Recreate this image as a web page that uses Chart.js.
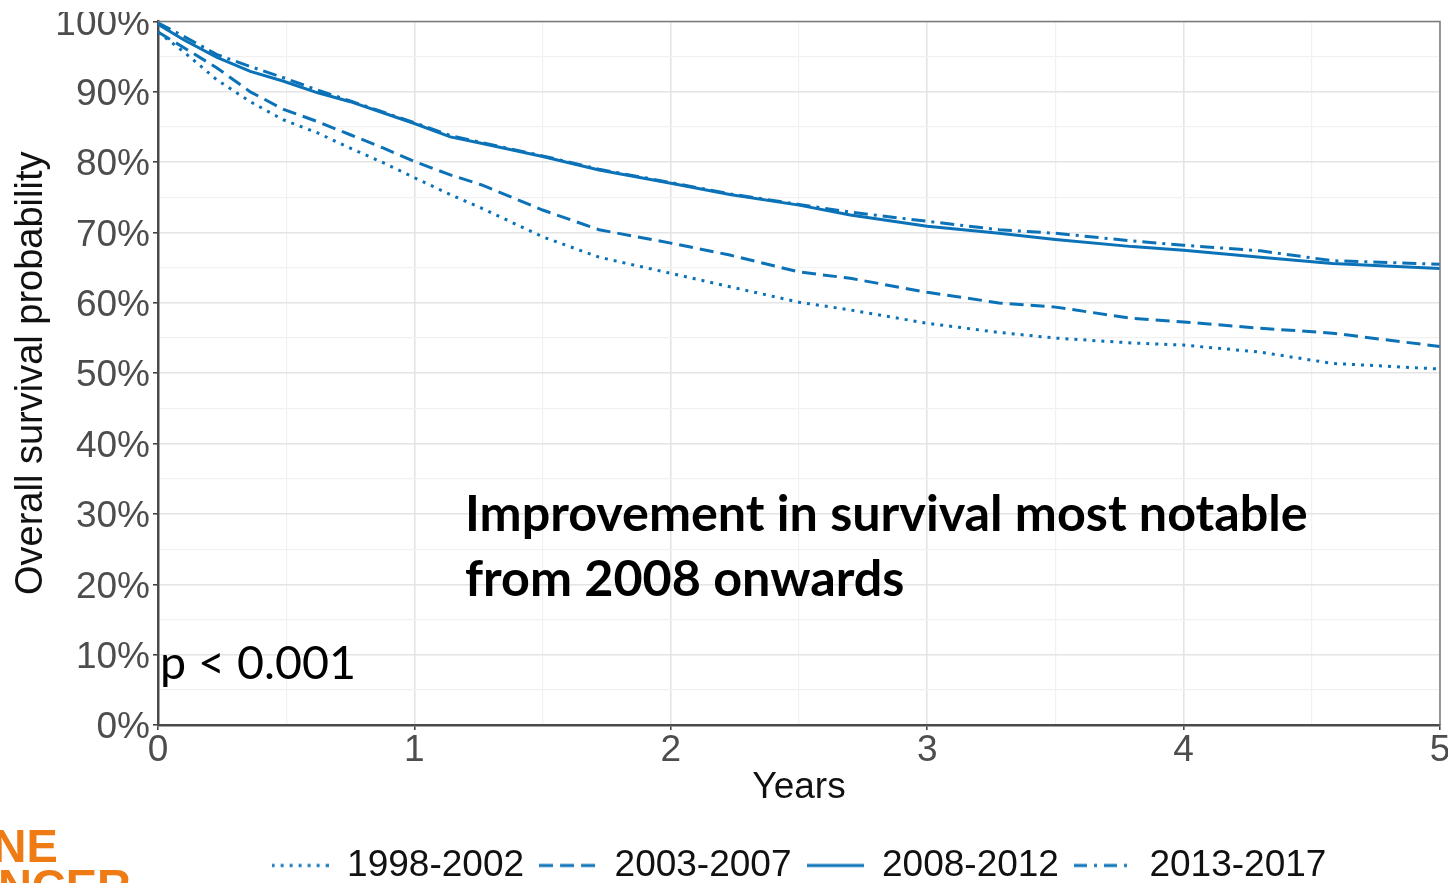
<!DOCTYPE html>
<html><head><meta charset="utf-8">
<script src="https://cdn.jsdelivr.net/npm/chart.js@4.4.1/dist/chart.umd.min.js"></script>
<style>
html,body{margin:0;padding:0;background:#fff;width:1448px;height:883px;overflow:hidden;position:relative}
#wrap{position:absolute;left:0;top:0;width:1470px;height:894px}
.note{position:absolute;white-space:nowrap;color:#000;margin:0;padding:0}
.logo{position:absolute;white-space:nowrap;color:#ef7b14;font-weight:bold}
</style></head><body>
<div id="wrap"><canvas id="c"></canvas></div>
<div id="topmask" style="position:absolute;left:0;top:0;width:156px;height:12px;background:#fff"></div>
<div class="note" id="n1">Improvement in survival most notable</div>
<div class="note" id="n2">from 2008 onwards</div>
<div class="note" id="n3">p &lt; 0.001</div>
<div class="logo" id="lg1">ONE</div>
<div class="logo" id="lg2">CANCER</div>
<script>
// ---- data ----
const years = [0, 0.1, 0.23, 0.36, 0.49, 0.62, 0.75, 0.88, 1.0, 1.14, 1.26, 1.5, 1.72, 2.0, 2.23, 2.5, 2.7, 3.0, 3.28, 3.5, 3.8, 4.0, 4.3, 4.58, 5.0];
const surv1998 = [98.5, 95.7, 91.7, 88.6, 86.0, 84.2, 82.0, 79.9, 77.8, 75.4, 73.5, 69.4, 66.5, 64.2, 62.3, 60.1, 59.0, 57.1, 55.8, 55.0, 54.3, 54.0, 53.0, 51.4, 50.6];
const surv2003 = [98.5, 96.3, 93.4, 90.0, 87.5, 85.8, 83.9, 82.0, 80.1, 78.2, 76.8, 73.2, 70.4, 68.5, 66.8, 64.4, 63.5, 61.5, 60.0, 59.4, 57.8, 57.3, 56.4, 55.7, 53.8];
const surv2008 = [99.6, 97.4, 94.9, 92.9, 91.5, 89.9, 88.6, 87.0, 85.5, 83.6, 82.7, 80.8, 78.9, 77.0, 75.4, 73.9, 72.5, 70.9, 69.9, 69.0, 68.0, 67.5, 66.5, 65.6, 64.9];
const surv2013 = [99.8, 97.9, 95.3, 93.6, 92.0, 90.3, 88.7, 87.1, 85.6, 83.8, 82.8, 80.9, 79.0, 77.1, 75.5, 74.0, 72.9, 71.6, 70.4, 69.9, 68.8, 68.2, 67.4, 66.0, 65.5];
const seriesLabels = ['1998-2002', '2003-2007', '2008-2012', '2013-2017'];
const xTickLabels = ['0', '1', '2', '3', '4', '5'];
const yTickLabels = ['0%', '10%', '20%', '30%', '40%', '50%', '60%', '70%', '80%', '90%', '100%'];

const BLUE = '#0b72b8';
const FONT = 'Liberation Sans';
Chart.defaults.font.family = FONT;

function pts(arr){ return years.map((t,i)=>({x:t, y:arr[i]})); }
const styles = [[3,6], [14,7], [], [14,6,3,6]];
const legendDash = [[3,6], [14,7], [], [13,7,3,7]];
const allSeries = [surv1998, surv2003, surv2008, surv2013];

function keyCanvas(dash){
  const c = document.createElement('canvas');
  c.width = 57; c.height = 6;
  const g = c.getContext('2d');
  g.strokeStyle = BLUE; g.lineWidth = 3;
  g.setLineDash(dash);
  g.beginPath(); g.moveTo(0, 3); g.lineTo(57, 3); g.stroke();
  return c;
}

const datasets = allSeries.map((s,i)=>({
  label: seriesLabels[i],
  data: pts(s),
  borderColor: BLUE,
  backgroundColor: BLUE,
  borderWidth: 3,
  borderDash: styles[i],
  pointRadius: 0,
  pointStyle: keyCanvas(legendDash[i]),
  tension: 0,
  fill: false
}));

const isMajor = (v, step) => Math.abs(v/step - Math.round(v/step)) < 1e-6;

const framePlugin = {
  id: 'frame',
  afterDatasetsDraw(chart){
    const {ctx, chartArea:a} = chart;
    ctx.save();
    ctx.strokeStyle = '#7a7a7a';
    ctx.lineWidth = 1.5;
    ctx.beginPath();
    ctx.moveTo(a.left, a.top);
    ctx.lineTo(a.right, a.top);
    ctx.lineTo(a.right, a.bottom);
    ctx.stroke();
    ctx.restore();
  }
};

new Chart(document.getElementById('c'), {
  type: 'line',
  data: { datasets },
  plugins: [framePlugin],
  options: {
    responsive: true,
    maintainAspectRatio: false,
    animation: false,
    layout: { padding: { left: 0, right: 30, top: 21, bottom: 0 } },
    plugins: {
      tooltip: { enabled: false },
      legend: {
        position: 'bottom',
        fullSize: false,
        labels: {
          usePointStyle: true,
          pointStyleWidth: 57,
          color: '#111',
          font: { size: 37 },
          padding: 15
        }
      }
    },
    scales: {
      x: {
        type: 'linear', min: 0, max: 5,
        ticks: {
          stepSize: 0.5, autoSkip: false, maxRotation: 0, padding: 2,
          color: '#4d4d4d', font: { size: 37, lineHeight: 1 },
          callback: v => isMajor(v,1) ? xTickLabels[Math.round(v)] : ''
        },
        grid: {
          color: c => (c.tick && isMajor(c.tick.value,1)) ? '#e4e4e4' : '#f1f1f1',
          lineWidth: c => (c.tick && isMajor(c.tick.value,1)) ? 1.6 : 1.2,
          tickLength: 5,
          tickColor: c => (c.tick && isMajor(c.tick.value,1)) ? '#444' : 'rgba(0,0,0,0)'
        },
        border: { color: '#4a4a4a', width: 2.5 },
        title: { display: true, text: 'Years', color: '#111', font: { size: 37, lineHeight: 1.2 }, padding: { top: 0, bottom: 22 } },
        afterFit: s => { s.height = 107; }
      },
      y: {
        min: 0, max: 100,
        ticks: {
          stepSize: 5, maxTicksLimit: 30, autoSkip: false, padding: 3, labelOffset: 3,
          color: '#4d4d4d', font: { size: 37, lineHeight: 1 },
          callback: v => isMajor(v,10) ? yTickLabels[Math.round(v/10)] : ''
        },
        grid: {
          color: c => (c.tick && isMajor(c.tick.value,10)) ? '#e4e4e4' : '#f1f1f1',
          lineWidth: c => (c.tick && isMajor(c.tick.value,10)) ? 1.6 : 1.2,
          tickLength: 5,
          tickColor: c => (c.tick && isMajor(c.tick.value,10)) ? '#444' : 'rgba(0,0,0,0)'
        },
        border: { color: '#4a4a4a', width: 2.5 },
        title: { display: true, text: 'Overall survival probability', color: '#111', font: { size: 38, lineHeight: 1.2 }, padding: { top: 9, bottom: 0 } },
        afterFit: s => { s.width = 158; }
      }
    }
  }
});

// ---- text overlays ----
const mctx = document.createElement('canvas').getContext('2d');
function fitSize(text, weight, family, target){
  mctx.font = `${weight} 100px ${family}`;
  return 100 * target / mctx.measureText(text).width;
}
function place(id, weight, family, size, left, baseline){
  const el = document.getElementById(id);
  mctx.font = `${weight} ${size}px ${family}`;
  const m = mctx.measureText(el.textContent);
  const asc = m.fontBoundingBoxAscent, desc = m.fontBoundingBoxDescent;
  el.style.font = `${weight} ${size}px ${family}`;
  el.style.lineHeight = (asc + desc) + 'px';
  el.style.left = left + 'px';
  el.style.top = (baseline - asc) + 'px';
}
const noteFam = 'Lato';
const s1 = fitSize('Improvement in survival most notable', 'bold', noteFam, 843);
place('n1', 'bold', noteFam, s1, 465, 531);
place('n2', 'bold', noteFam, s1, 465, 596);
const s3 = fitSize('p < 0.001', 'normal', noteFam, 196);
place('n3', 'normal', noteFam, s3, 160, 679);
place('lg1', 'bold', FONT, 47, -44, 862);
place('lg2', 'bold', FONT, 47, -70, 902);
</script>
</body></html>
